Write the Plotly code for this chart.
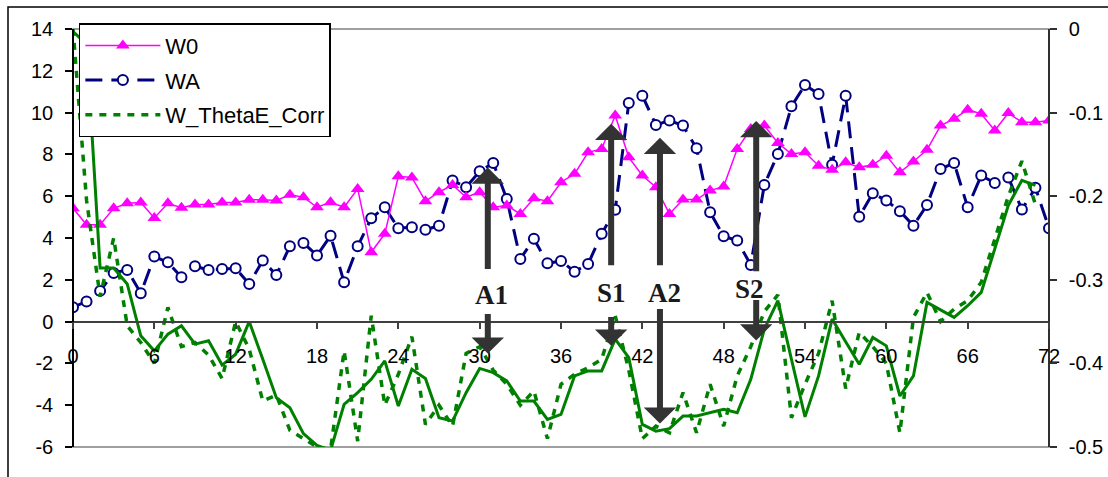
import plotly.graph_objects as go

# ---------------- data ----------------
x = list(range(73))

w0 = [5.42, 4.63, 4.63, 5.42, 5.66, 5.70, 4.96, 5.66, 5.45, 5.60, 5.60, 5.70, 5.70,
      5.83, 5.83, 5.80, 6.07, 5.95, 5.47, 5.71, 5.47, 6.35, 3.32, 4.20, 6.95, 6.90,
      5.76, 6.19, 6.54, 5.95, 6.19, 5.47, 5.55, 5.15, 5.90, 5.76, 6.67, 7.07, 8.10,
      8.26, 9.86, 7.86, 6.99, 6.43, 5.15, 5.84, 5.84, 6.27, 6.47, 8.26, 9.22, 9.38,
      8.55, 8.02, 8.10, 7.46, 7.26, 7.62, 7.38, 7.50, 7.94, 7.14, 7.66, 8.22, 9.38,
      9.70, 10.14, 9.94, 9.14, 9.98, 9.54, 9.54, 9.62]

wa = [0.69, 0.96, 1.47, 2.33, 2.47, 1.36, 3.11, 2.84, 2.12, 2.65, 2.47, 2.52, 2.55,
      1.80, 2.92, 2.23, 3.60, 3.76, 3.16, 4.11, 1.88, 3.60, 4.94, 5.47, 4.47, 4.51,
      4.40, 4.59, 6.75, 6.43, 7.19, 7.59, 5.87, 3.00, 3.96, 2.79, 2.90, 2.39, 2.76,
      4.20, 5.35, 10.46, 10.81, 9.41, 9.62, 9.38, 8.29, 5.23, 4.08, 3.88, 2.71, 6.54,
      8.02, 10.30, 11.32, 10.89, 7.50, 10.81, 5.02, 6.14, 5.79, 5.28, 4.59, 5.58, 7.30,
      7.59, 5.47, 6.99, 6.63, 6.90, 5.36, 6.40, 4.47]

# right axis values
theta_corr = [0.000, -0.205, -0.320, -0.250, -0.355, -0.375, -0.400, -0.333, -0.380,
              -0.375, -0.390, -0.418, -0.350, -0.383, -0.445, -0.438, -0.480, -0.490,
              -0.500, -0.503, -0.385, -0.493, -0.343, -0.450, -0.413, -0.368, -0.473,
              -0.450, -0.475, -0.388, -0.380, -0.408, -0.425, -0.450, -0.433, -0.490,
              -0.425, -0.413, -0.405, -0.395, -0.343, -0.408, -0.490, -0.475, -0.483,
              -0.435, -0.483, -0.425, -0.475, -0.415, -0.380, -0.338, -0.318, -0.465,
              -0.425, -0.388, -0.325, -0.430, -0.363, -0.380, -0.400, -0.483, -0.345,
              -0.315, -0.350, -0.335, -0.325, -0.303, -0.250, -0.200, -0.158, -0.210, None]

theta_corr_smooth = [-0.003, -0.018, -0.286, -0.286, -0.305, -0.367, -0.385, -0.365,
                     -0.355, -0.377, -0.373, -0.402, -0.389, -0.350, -0.395, -0.441,
                     -0.453, -0.484, -0.498, -0.504, -0.449, -0.435, -0.419, -0.397,
                     -0.451, -0.407, -0.418, -0.465, -0.469, -0.435, -0.406, -0.411,
                     -0.421, -0.445, -0.445, -0.467, -0.461, -0.415, -0.409, -0.409,
                     -0.371, -0.393, -0.473, -0.481, -0.478, -0.463, -0.463, -0.459,
                     -0.455, -0.459, -0.419, -0.359, -0.325, -0.395, -0.464, -0.415,
                     -0.347, -0.374, -0.401, -0.369, -0.379, -0.439, -0.415, -0.327,
                     -0.336, -0.345, -0.331, -0.315, -0.263, -0.211, -0.181, -0.187, None]

x_ticks = list(range(0, 73, 6))
left_ticks = list(range(-6, 15, 2))
left_ticktext = [str(v) for v in left_ticks]
right_ticks = [-0.5, -0.4, -0.3, -0.2, -0.1, 0]
right_ticktext = ["-0.5", "-0.4", "-0.3", "-0.2", "-0.1", "0"]

# events: label, x, upper arrow (tail, tip), lower arrow (tail, tip), label position
event_labels = ["A1", "S1", "A2", "S2"]
event_x = [30.6, 39.7, 43.3, 50.4]
up_tail = [2.44, 2.63, 2.63, 2.34]
up_tip = [7.37, 9.47, 8.8, 9.6]
down_tail = [0.43, 0.29, 0.67, 1.1]
down_tip = [-1.53, -1.15, -4.88, -0.9]
label_x = [30.9, 39.76, 43.6, 49.87]
label_y = [1.29, 1.39, 1.39, 1.58]

# ---------------- figure ----------------
MAG = "#FF00FF"
NAVY = "#000080"
GREEN = "#008000"
FONT = "Liberation Sans, Arial, sans-serif"

fig = go.Figure()

fig.add_trace(go.Scatter(
    x=x, y=theta_corr_smooth, yaxis="y2", mode="lines", showlegend=False,
    line=dict(color=GREEN, width=3), connectgaps=False))
fig.add_trace(go.Scatter(
    x=x, y=theta_corr, yaxis="y2", mode="lines", name="W_ThetaE_Corr",
    legendgroup="c", legendrank=3,
    line=dict(color=GREEN, width=3.5, dash="7px,7px")))
fig.add_trace(go.Scatter(
    x=x, y=wa, mode="lines+markers", name="WA", legendgroup="b", legendrank=2,
    line=dict(color=NAVY, width=3, dash="17px,9px"),
    marker=dict(symbol="circle", size=10, color="white",
                line=dict(color=NAVY, width=2))))
fig.add_trace(go.Scatter(
    x=x, y=w0, mode="lines+markers", name="W0", legendgroup="a", legendrank=1,
    line=dict(color=MAG, width=1.5),
    marker=dict(symbol="triangle-up", size=12, color=MAG)))

annotations = []
for lab, ex, ut, up, dt, dp, lx, ly in zip(event_labels, event_x, up_tail, up_tip,
                                           down_tail, down_tip, label_x, label_y):
    for tail, tip in ((ut, up), (dt, dp)):
        annotations.append(dict(
            x=ex, y=tip, ax=ex, ay=tail, xref="x", yref="y", axref="x", ayref="y",
            text="", showarrow=True, arrowhead=1, arrowsize=0.9, arrowwidth=6,
            arrowcolor="#333333", standoff=0, startstandoff=0))
    annotations.append(dict(
        x=lx, y=ly, xref="x", yref="y", text="<b>%s</b>" % lab, showarrow=False,
        font=dict(family="Liberation Serif, Times New Roman, serif", size=27,
                  color="#1a1a1a")))

shapes = [
    # plot-area frame (gray)
    dict(type="rect", xref="paper", yref="paper", x0=0, x1=1, y0=0, y1=1,
         line=dict(color="#808080", width=1.5), layer="below"),
    # outer chart frame
    dict(type="rect", xref="paper", yref="paper", x0=-0.0666, x1=1.07,
         y0=-0.1, y1=1.0526, line=dict(color="black", width=1.5), layer="below"),
]

tickfont = dict(family=FONT, size=20, color="black")

fig.update_layout(
    width=1108, height=477,
    margin=dict(l=73, r=59, t=29, b=30, autoexpand=False),
    paper_bgcolor="white", plot_bgcolor="white",
    font=dict(family=FONT, size=20, color="black"),
    xaxis=dict(range=[0, 72], anchor="free", position=0.3, showline=True,
               linecolor="#404040", linewidth=1.5, ticks="outside", ticklen=7,
               tickwidth=1.5, tickcolor="#404040", tickvals=x_ticks,
               ticktext=[str(v) for v in x_ticks], tickfont=tickfont,
               ticklabelstandoff=10, showgrid=False, zeroline=False,
               automargin=False),
    xaxis2=dict(range=[0, 72], overlaying="x", anchor="free", position=0.3,
                showline=False, ticks="inside", ticklen=7, tickwidth=1.5,
                tickcolor="#404040", tickvals=x_ticks, showticklabels=False,
                showgrid=False, zeroline=False),
    yaxis=dict(range=[-6, 14], anchor="free", position=0, showline=True,
               linecolor="black", linewidth=1.5, ticks="outside", ticklen=7,
               tickwidth=1.5, tickcolor="black", tickvals=left_ticks,
               ticktext=left_ticktext, tickfont=tickfont, ticklabelstandoff=8,
               showgrid=False, zeroline=False, automargin=False),
    yaxis3=dict(range=[-6, 14], overlaying="y", anchor="free", position=0,
                ticks="inside", ticklen=7, tickwidth=1.5, tickcolor="black",
                tickvals=left_ticks, showticklabels=False, showline=False,
                showgrid=False, zeroline=False),
    yaxis2=dict(range=[-0.5, 0], overlaying="y", side="right", anchor="free",
                position=1, showline=True, linecolor="#303030", linewidth=1.5,
                ticks="outside", ticklen=7, tickwidth=1.5, tickcolor="#303030",
                tickvals=right_ticks, ticktext=right_ticktext, tickfont=tickfont,
                ticklabelstandoff=8, showgrid=False, zeroline=False,
                automargin=False),
    yaxis4=dict(range=[-0.5, 0], overlaying="y", side="right", anchor="free",
                position=1, ticks="inside", ticklen=7, tickwidth=1.5,
                tickcolor="#303030", tickvals=right_ticks, showticklabels=False,
                showline=False, showgrid=False, zeroline=False),
    legend=dict(x=0.006, y=1.014, xanchor="left", yanchor="top",
                bgcolor="white", bordercolor="black", borderwidth=1.5,
                font=dict(family=FONT, size=22, color="black"),
                itemwidth=75, tracegroupgap=3, traceorder="grouped"),
    annotations=annotations,
    shapes=shapes,
    showlegend=True,
)

fig.write_html("out.html",
               config={"displayModeBar": False},
               post_script="document.body.style.margin='0';"
                           "document.body.style.overflow='hidden';")
